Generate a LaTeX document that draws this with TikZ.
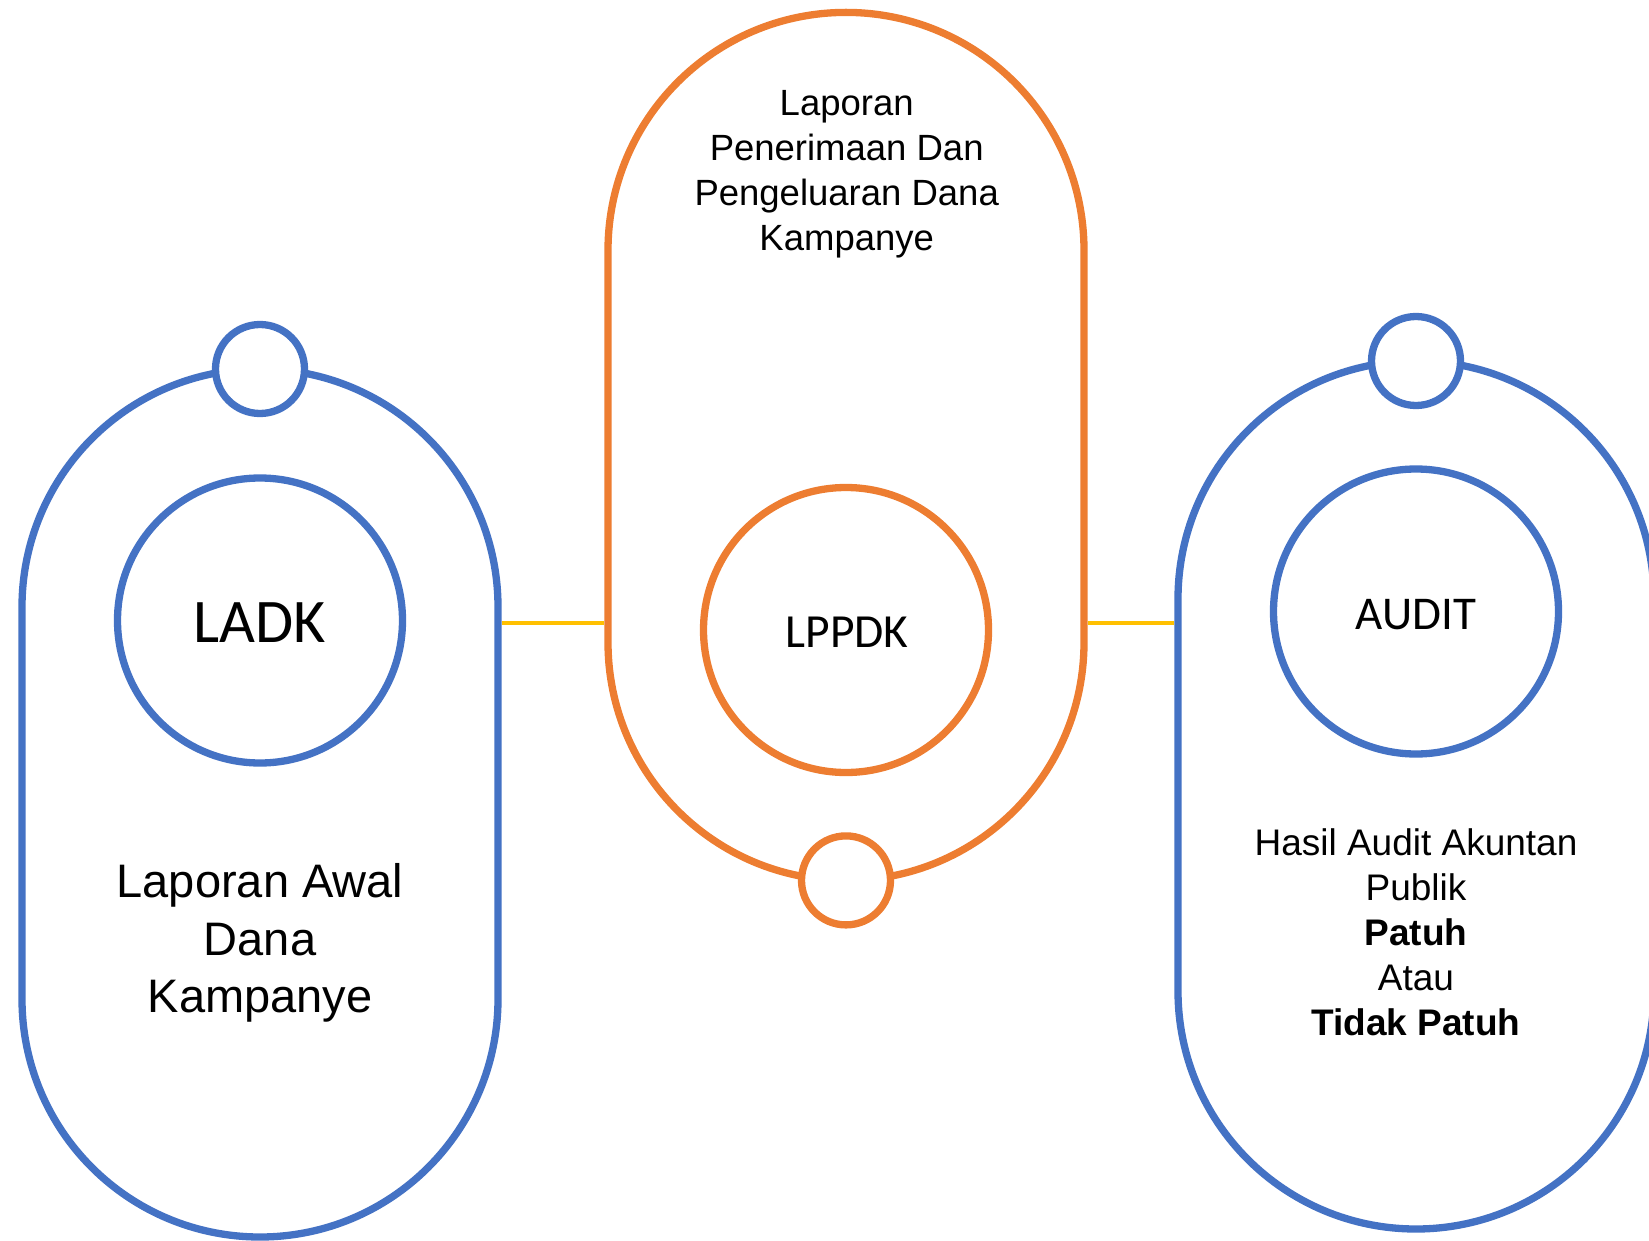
\documentclass[tikz,border=0pt]{standalone}
\usepackage{fontspec}
\setmainfont{Liberation Sans}
\newfontfamily\calibri{Carlito}
\definecolor{cblue}{HTML}{4472C4}
\definecolor{corange}{HTML}{ED7D31}
\definecolor{cyellow}{HTML}{FFC000}
\begin{document}
\begin{tikzpicture}[x=1pt,y=-1pt,
  capsule/.style={draw=#1, line width=7.3pt, rectangle, rounded corners=238pt,
    minimum width=476pt, minimum height=868pt, inner sep=0pt, outer sep=0pt},
  knob/.style={draw=#1, fill=white, line width=7.3pt, circle, minimum size=89pt,
    inner sep=0pt, outer sep=0pt},
  ring/.style={draw=#1, line width=7.3pt, circle, minimum size=285pt,
    inner sep=0pt, outer sep=0pt},
  acro/.style={font=\calibri\fontsize{#1}{#1}\selectfont, anchor=base, inner sep=0pt},
  desc/.style={align=center, anchor=base, inner sep=0pt},
  link/.style={draw=cyellow, line width=4pt, shorten <=3.6pt, shorten >=3.6pt}]
\useasboundingbox (0,0) rectangle (1649,1241);
\clip (0,0) rectangle (1649,1241);
% capsules
\node[capsule=cblue] (lcap) at (260,803) {};
\node[capsule=corange] (mcap) at (846,446.4) {};
\node[capsule=cblue] (rcap) at (1416,795) {};
% knobs
\node[knob=cblue] (lknob) at (lcap.north) {};
\node[knob=corange] (mknob) at (mcap.south) {};
\node[knob=cblue] (rknob) at (rcap.north) {};
% rings
\node[ring=cblue] (lring) at (260,620.5) {};
\node[ring=corange] (mring) at (846,630) {};
\node[ring=cblue] (rring) at (1416,611.5) {};
% connectors
\coordinate (ylev) at (0,622.7);
\draw[link] (lcap.east |- ylev) -- (mcap.west |- ylev);
\draw[link] (mcap.east |- ylev) -- (rcap.west |- ylev);
% acronyms
\node[acro=62] (ladk) at (260,642) {LADK};
\node[acro=47.5] (lppdk) at (847,647.3) {LPPDK};
\node[acro=47] (audit) at (1416,629) {AUDIT};
% descriptions (anchored at the baseline of the last line)
\node[desc, font=\fontsize{47}{57.7}\selectfont] (ltext) at (260,1012.7)
  {Laporan Awal\\Dana\\Kampanye};
\node[desc, font=\fontsize{36.5}{44.9}\selectfont] (mtext) at (846.7,250.5)
  {Laporan\\Penerimaan Dan\\Pengeluaran Dana\\Kampanye};
\node[desc, font=\fontsize{37}{45}\selectfont] (rtext) at (1416,1035)
  {Hasil Audit Akuntan\\Publik\\\textbf{Patuh}\\Atau\\\textbf{Tidak Patuh}};
\end{tikzpicture}
\end{document}
